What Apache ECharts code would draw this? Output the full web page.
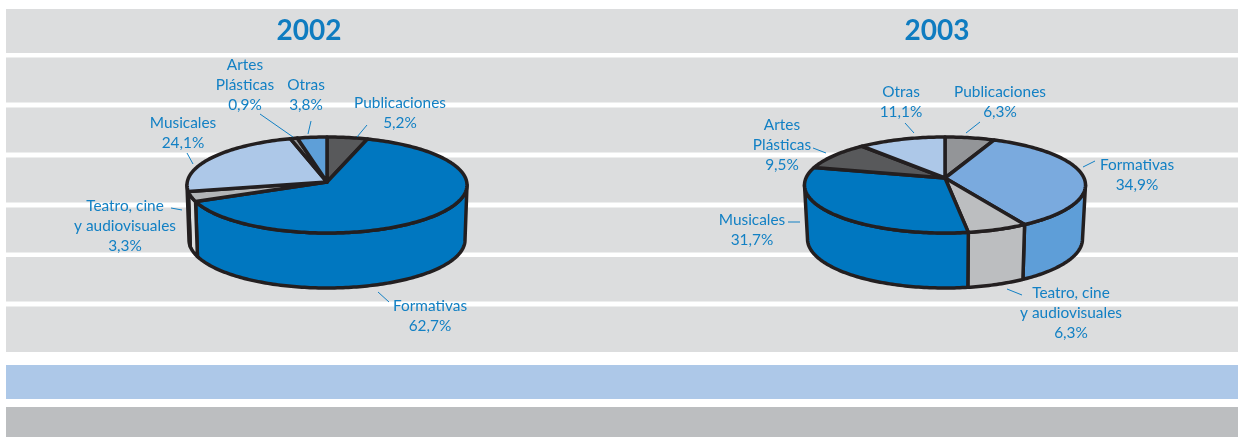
<!DOCTYPE html>
<html>
<head>
<meta charset="utf-8">
<style>html,body{margin:0;padding:0;background:#fff}#c{width:1238px;height:437px}</style>
<script src="https://cdn.jsdelivr.net/npm/echarts@6/dist/echarts.min.js"></script>
</head>
<body>
<div id="c"></div>
<script>
// ---- data ----
const years = ['2002', '2003'];
const labels2002 = ['Publicaciones', 'Formativas', 'Teatro, cine\ny audiovisuales', 'Musicales', 'Artes\nPlásticas', 'Otras'];
const labels2003 = ['Publicaciones', 'Formativas', 'Teatro, cine\ny audiovisuales', 'Musicales', 'Artes\nPlásticas', 'Otras'];
const values2002 = [5.2, 62.7, 3.3, 24.1, 0.9, 3.8];
const values2003 = [6.3, 34.9, 6.3, 31.7, 9.5, 11.1];

// ---- styles ----
const topColors2002  = ['#58595b', '#0077c0', '#b3b5b7', '#adc8e8', '#939598', '#5e9fd8'];
const sideColors2002 = ['#58595b', '#0077c0', '#dcddde', '#adc8e8', '#939598', '#5e9fd8'];
const topColors2003  = ['#939598', '#7aaade', '#bcbec0', '#0077c0', '#58595b', '#adc8e8'];
const sideColors2003 = ['#939598', '#5e9ed8', '#bcbec0', '#0077c0', '#58595b', '#adc8e8'];
const INK = '#231f20', TEXT = '#1280c4', BAND = '#dcddde';

// ---- layout ----
const geom2002 = {cx: 327, cy: 185, ax: 327, ay: 182, rx: 140, ry: 48, bcy: 240, brx: 138, bry: 48};
const geom2003 = {cx: 945, cy: 185, ax: 945, ay: 178, rx: 140.5, ry: 48, bcy: 239, brx: 137.5, bry: 49};
const PERSPECTIVE = 6 * Math.PI / 180;   // angular foreshortening of the tilted disc
const labelPos2002 = [[400, 103], [430, 306], [125, 206], [183, 123], [245, 65], [306, 85]];
const labelPos2003 = [[1000, 92], [1137, 165], [1071, 293], [752, 220], [782, 125], [901, 92]];
const leaders2002 = [[367,125,357,137],[378,292,389,302],[171,208,182,210],[187,153,193,164],[260,114,293,137],[311,121,308,134]];
const leaders2003 = [[980,122,966,133],[1083,167,1095,161],[1007,289,1022,295],[788,222,800,222],[813,148,826,153],[905,123,914,133]];
const bands = [[9,44],[57.5,45],[107.5,45],[157.5,45],[207.5,45],[257,44.5],[306.5,45.5]];
const strips = [[365,34,'#adc8e8'],[407,30,'#bcbec0']];

function pct(v){ return v.toFixed(1).replace('.', ',') + '%'; }

function pieSeries(values, g, tops, sides, names){
  const total = values.reduce((a,b)=>a+b,0);
  const starts = []; let run = 0;
  values.forEach(v=>{ starts.push(run); run += v; });
  const ang = v => { const a = v/total*2*Math.PI; return a - PERSPECTIVE*Math.sin(a); };
  const pt  = (t)=>[g.cx+g.rx*Math.sin(t), g.cy-g.ry*Math.cos(t)];
  const bpt = (t)=>[g.cx+g.brx*Math.sin(t), g.bcy-g.bry*Math.cos(t)];
  const arc = (a,b,f)=>{ const n=Math.max(2,Math.ceil((b-a)/0.02)), o=[];
    for(let i=0;i<=n;i++) o.push(f(a+(b-a)*i/n)); return o; };
  return {
    type:'custom', coordinateSystem:'none', silent:true, clip:false,
    data: values.map((v,i)=>({name:names[i], value:[v]})),
    renderItem(params, api){
      const i = params.dataIndex, v = api.value(0);
      const a0 = ang(starts[i]), a1 = ang(starts[i]+v);
      const children = [];
      const w0 = Math.max(a0, Math.PI/2), w1 = Math.min(a1, 3*Math.PI/2);
      if (w1 > w0){
        const up = arc(w0,w1,pt), down = arc(w0,w1,bpt).reverse();
        children.push({type:'polygon', shape:{points:up.concat(down)},
          style:{fill:sides[i], stroke:INK, lineWidth:3.5, lineJoin:'round'}});
      }
      children.push({type:'polygon', shape:{points:[[g.ax,g.ay]].concat(arc(a0,a1,pt))},
        style:{fill:tops[i], stroke:INK, lineWidth:3.5, lineJoin:'round'}});
      return {type:'group', children};
    }
  };
}

function labelGraphics(values, names, pos, lines){
  const out = [];
  values.forEach((v,i)=>{
    const l = lines[i];
    out.push({type:'line', silent:true, shape:{x1:l[0],y1:l[1],x2:l[2],y2:l[3]},
      style:{stroke:TEXT, lineWidth:1}, z:5});
    out.push({type:'text', silent:true, x:pos[i][0], y:pos[i][1], z:6,
      style:{text:names[i]+'\n'+pct(v), fill:TEXT, font:'15.4px Lato', align:'center',
             verticalAlign:'top', lineHeight:20, y:-10}});
  });
  return out;
}

const bg = bands.map(b=>({type:'rect', silent:true, z:-10, shape:{x:6,y:b[0],width:1232,height:b[1]}, style:{fill:BAND}}))
  .concat(strips.map(s=>({type:'rect', silent:true, z:-10, shape:{x:6,y:s[0],width:1232,height:s[1]}, style:{fill:s[2]}})));

const chart = echarts.init(document.getElementById('c'), null, {renderer:'canvas'});
chart.setOption({
  animation:false,
  backgroundColor:'#fff',
  title: [
    {text:years[0], left:304, top:12, textAlign:'center', textStyle:{fontFamily:'Lato', fontSize:28, fontWeight:'bold', color:'#0f7cc0'}},
    {text:years[1], left:932, top:12, textAlign:'center', textStyle:{fontFamily:'Lato', fontSize:28, fontWeight:'bold', color:'#0f7cc0'}}
  ],
  graphic: bg.concat(labelGraphics(values2002, labels2002, labelPos2002, leaders2002),
                     labelGraphics(values2003, labels2003, labelPos2003, leaders2003)),
  series:[
    pieSeries(values2002, geom2002, topColors2002, sideColors2002, labels2002),
    pieSeries(values2003, geom2003, topColors2003, sideColors2003, labels2003)
  ]
});
</script>
</body>
</html>
